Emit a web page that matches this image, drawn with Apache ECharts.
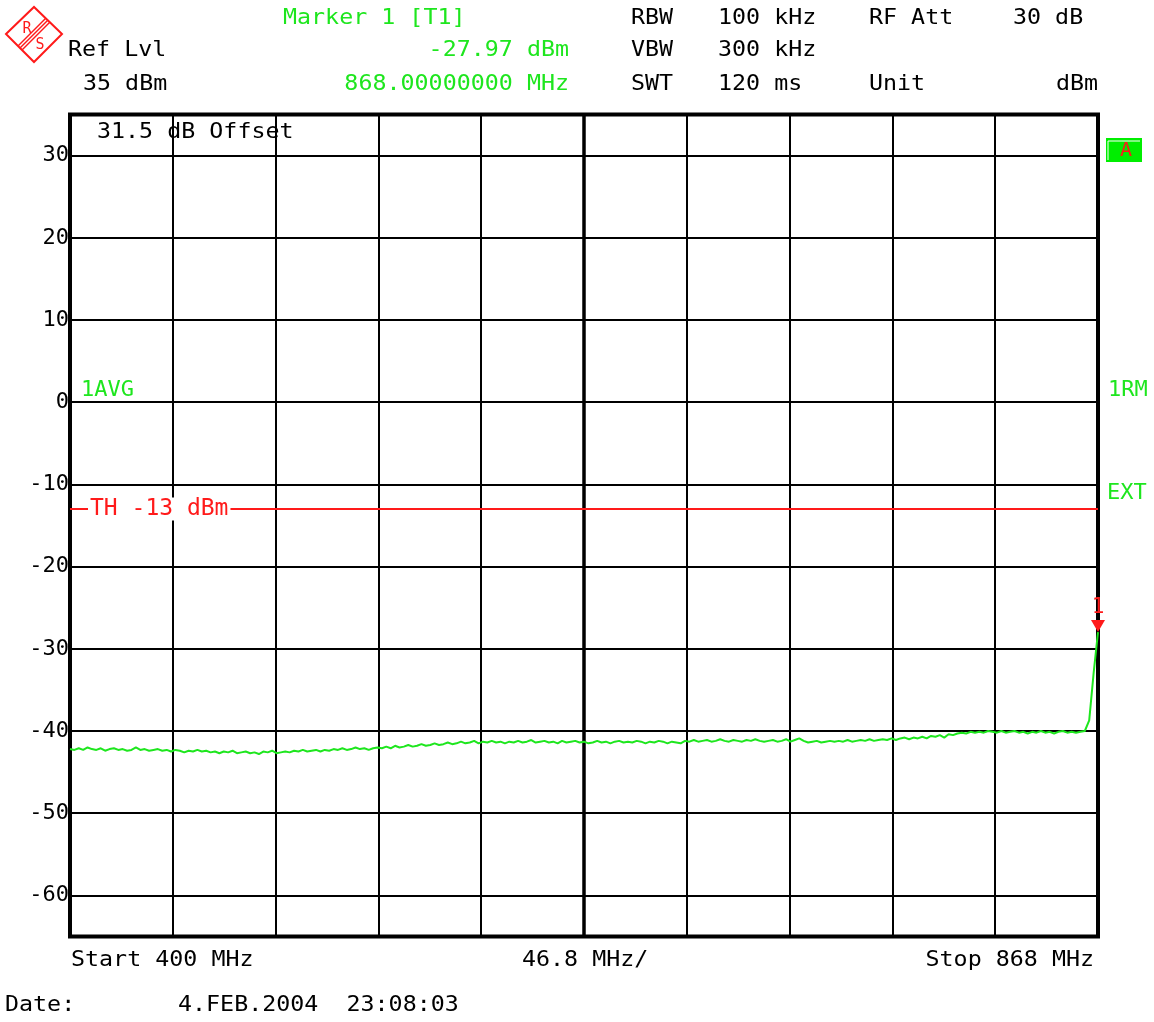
<!DOCTYPE html>
<html>
<head>
<meta charset="utf-8">
<script src="https://cdn.jsdelivr.net/npm/echarts@6/dist/echarts.min.js"></script>
<style>
html,body{margin:0;padding:0;background:#fff;}
#chart{width:1154px;height:1022px;}
</style>
</head>
<body>
<div id="chart"></div>
<script>
// ---- data ----
const freqStart = 400;      // MHz
const freqStop = 868;       // MHz
const freqStep = 2;         // MHz between trace samples
const divisions = 10;
const refLevel = 35;        // dBm (top of screen)
const bottomLevel = -65;    // dBm
const thresholdLevel = -13; // dBm
const markerFreq = 868;
const markerLevel = -27.97;

// trace level (dBm), one value every 2 MHz from 400 to 868 MHz
const traceLevels = [
  -42.2,-42.3,-42.1,-42.3,-42.0,-42.2,-42.3,-42.1,-42.4,-42.2,
  -42.1,-42.3,-42.2,-42.4,-42.3,-42.0,-42.3,-42.2,-42.4,-42.3,
  -42.2,-42.4,-42.3,-42.5,-42.3,-42.4,-42.6,-42.4,-42.5,-42.3,
  -42.5,-42.4,-42.6,-42.5,-42.7,-42.5,-42.6,-42.4,-42.7,-42.6,
  -42.5,-42.7,-42.6,-42.8,-42.5,-42.6,-42.4,-42.7,-42.6,-42.5,
  -42.6,-42.4,-42.5,-42.3,-42.5,-42.4,-42.3,-42.5,-42.3,-42.4,
  -42.2,-42.3,-42.1,-42.3,-42.2,-42.0,-42.2,-42.1,-42.3,-42.1,
  -42.0,-42.1,-41.9,-42.1,-41.8,-42.0,-41.9,-41.7,-41.9,-41.8,
  -41.6,-41.8,-41.7,-41.5,-41.7,-41.6,-41.4,-41.6,-41.5,-41.3,
  -41.5,-41.4,-41.2,-41.5,-41.3,-41.4,-41.2,-41.4,-41.3,-41.5,
  -41.3,-41.4,-41.2,-41.4,-41.3,-41.1,-41.4,-41.3,-41.2,-41.4,
  -41.3,-41.5,-41.2,-41.4,-41.3,-41.2,-41.4,-41.3,-41.5,-41.4,
  -41.2,-41.4,-41.3,-41.5,-41.3,-41.2,-41.4,-41.3,-41.4,-41.2,
  -41.3,-41.5,-41.3,-41.4,-41.2,-41.3,-41.5,-41.3,-41.4,-41.5,
  -41.2,-41.3,-41.1,-41.3,-41.2,-41.1,-41.3,-41.2,-41.0,-41.2,
  -41.3,-41.1,-41.2,-41.3,-41.1,-41.2,-41.0,-41.2,-41.3,-41.2,
  -41.1,-41.3,-41.2,-41.0,-41.3,-41.1,-40.9,-41.2,-41.4,-41.3,
  -41.2,-41.4,-41.3,-41.2,-41.3,-41.2,-41.3,-41.1,-41.3,-41.2,
  -41.1,-41.2,-41.0,-41.2,-41.1,-41.0,-41.1,-40.9,-41.1,-40.9,
  -40.8,-41.0,-40.8,-40.9,-40.7,-40.9,-40.6,-40.7,-40.5,-40.8,
  -40.4,-40.5,-40.3,-40.2,-40.3,-40.1,-40.2,-40.1,-40.2,-40.0,
  -40.1,-40.2,-40.0,-40.2,-40.1,-40.0,-40.2,-40.1,-40.3,-40.1,
  -40.2,-40.0,-40.2,-40.1,-40.3,-40.1,-40.0,-40.2,-40.1,-40.2,
  -40.1,-40.0,-38.7,-33.0,-27.97
];

const headerRow1 = ['Marker 1 [T1]', 'RBW', '100 kHz', 'RF Att', '30 dB'];
const headerRow2 = ['Ref Lvl', '-27.97 dBm', 'VBW', '300 kHz'];
const headerRow3 = ['35 dBm', '868.00000000 MHz', 'SWT', '120 ms', 'Unit', 'dBm'];
const dateText = ['Date:', '4.FEB.2004  23:08:03'];

// ---- build ----
const traceData = traceLevels.map((v, i) => [freqStart + i * freqStep, v]);
const spanPerDiv = ((freqStop - freqStart) / divisions).toFixed(1);
const centerFreq = (freqStart + freqStop) / 2;

const GREEN = '#1ee61e';
const RED = '#ff1a1a';
const MONO = '"DejaVu Sans Mono", "Liberation Mono", monospace';
const SX = 1.06;

function txt(s, x, y, color, align, size, sx) {
  return {
    type: 'text', x: x, y: y, scaleX: sx || SX, z: 100,
    style: {
      text: s, fill: color || '#000',
      font: (size || 22) + 'px ' + MONO,
      textAlign: align || 'left', textVerticalAlign: 'middle'
    }
  };
}

const graphics = [
  // R&S logo
  { type: 'polygon', shape: { points: [[6,34],[34,7],[62,34],[34,62]] },
    style: { fill: 'none', stroke: RED, lineWidth: 2 } },
  { type: 'line', shape: { x1: 18, y1: 46, x2: 46, y2: 18 }, style: { stroke: RED, lineWidth: 1.5 } },
  { type: 'line', shape: { x1: 20, y1: 48, x2: 48, y2: 20 }, style: { stroke: RED, lineWidth: 1.5 } },
  { type: 'line', shape: { x1: 22, y1: 50, x2: 50, y2: 22 }, style: { stroke: RED, lineWidth: 1.5 } },
  txt('R', 27, 29, RED, 'center', 15, 1),
  txt('S', 40, 45, RED, 'center', 15, 1),

  // header row 1
  txt(headerRow1[0], 283, 18, GREEN),
  txt(headerRow1[1], 631, 18),
  txt(headerRow1[2], 718, 18),
  txt(headerRow1[3], 869, 18),
  txt(headerRow1[4], 1013, 18),
  // header row 2
  txt(headerRow2[0], 68, 50),
  txt(headerRow2[1], 569, 50, GREEN, 'right'),
  txt(headerRow2[2], 631, 50),
  txt(headerRow2[3], 718, 50),
  // header row 3
  txt(headerRow3[0], 83, 84),
  txt(headerRow3[1], 569, 84, GREEN, 'right'),
  txt(headerRow3[2], 631, 84),
  txt(headerRow3[3], 718, 84),
  txt(headerRow3[4], 869, 84),
  txt(headerRow3[5], 1098, 84, '#000', 'right'),

  // inside plot
  txt('31.5 dB Offset', 97, 132),
  txt('1AVG', 81, 390, GREEN, 'left', 22, 1.0),
  txt('1RM', 1108, 390, GREEN, 'left', 22, 1.0),
  txt('EXT', 1107, 493, GREEN, 'left', 22, 1.0),

  // trace "A" box
  { type: 'rect', shape: { x: 1106, y: 138, width: 36, height: 24 }, style: { fill: '#00ee00' } },
  { type: 'polyline', shape: { points: [[1108,160],[1108,141],[1140,141]] },
    style: { stroke: '#fff', lineWidth: 1, fill: 'none' } },
  txt('A', 1126, 151, RED, 'center', 20, 1),

  // bottom texts
  txt('Start ' + freqStart + ' MHz', 71, 960),
  txt(spanPerDiv + ' MHz/', 522, 960),
  txt('Stop ' + freqStop + ' MHz', 1094, 960, '#000', 'right'),
  txt(dateText[0], 5, 1005),
  txt(dateText[1], 178, 1005)
];

const chart = echarts.init(document.getElementById('chart'), null, { renderer: 'canvas' });
chart.setOption({
  animation: false,
  backgroundColor: '#fff',
  grid: {
    left: 70, right: 56, top: 114.5, bottom: 85.5,
    show: true, borderColor: '#000', borderWidth: 4, backgroundColor: '#fff'
  },
  xAxis: [
    { type: 'value', min: freqStart, max: freqStop, show: false },
    { type: 'value', min: 0, max: divisions, interval: 1, position: 'bottom',
      axisLine: { show: false }, axisTick: { show: false }, axisLabel: { show: false },
      splitLine: { show: true, lineStyle: { color: '#000', width: 2 } } }
  ],
  yAxis: {
    type: 'value', min: bottomLevel, max: refLevel, splitNumber: 10,
    axisLine: { show: false }, axisTick: { show: false },
    axisLabel: {
      show: true, showMinLabel: false, showMaxLabel: false, margin: 1,
      color: '#000', fontSize: 22, fontFamily: MONO
    },
    splitLine: { show: true, lineStyle: { color: '#000', width: 2 } }
  },
  series: [{
    type: 'line',
    xAxisIndex: 0,
    data: traceData,
    showSymbol: false,
    lineStyle: { color: GREEN, width: 2 },
    z: 5,
    markLine: {
      silent: true, symbol: 'none', animation: false,
      data: [
        { xAxis: centerFreq, lineStyle: { color: '#000', width: 3.5, type: 'solid' }, label: { show: false } },
        { yAxis: thresholdLevel, lineStyle: { color: RED, width: 2, type: 'solid' },
          label: { show: true, position: 'insideStart', distance: 18,
                   formatter: 'TH ' + thresholdLevel + ' dBm', color: RED,
                   fontSize: 23, fontFamily: MONO, backgroundColor: '#fff', padding: [0, 2] } }
      ]
    },
    markPoint: {
      silent: true, animation: false,
      data: [{ coord: [markerFreq, markerLevel] }],
      symbol: 'triangle', symbolRotate: 180, symbolSize: [14, 12], symbolOffset: [0, -6],
      itemStyle: { color: RED },
      label: { show: true, position: 'top', distance: 2, formatter: '1', color: RED, fontSize: 21, fontFamily: MONO }
    }
  }],
  graphic: graphics
});
</script>
</body>
</html>
